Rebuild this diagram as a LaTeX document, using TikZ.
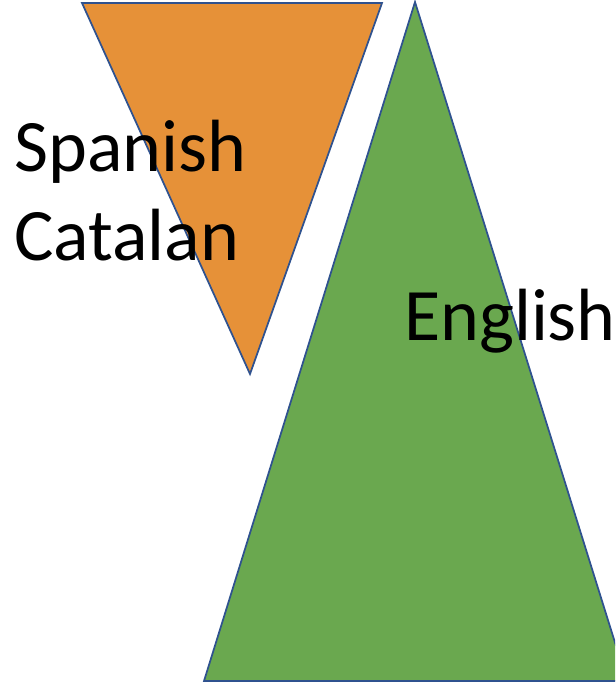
\documentclass[tikz,border=0pt]{standalone}
\usepackage{fontspec}
\setmainfont{Carlito}
\definecolor{tri orange}{RGB}{230,145,56}
\definecolor{tri green}{RGB}{106,168,79}
\definecolor{tri edge}{RGB}{47,82,143}
\tikzset{
  tri/.style={draw=tri edge, line width=1.3pt, line join=miter},
  lang/.style={font=\fontsize{55.5}{66}\selectfont, inner sep=0pt, anchor=base west}
}
\begin{document}
\begin{tikzpicture}[x=0.75pt,y=-0.75pt]
\useasboundingbox (0,0) rectangle (615,684);
\clip (0,0) rectangle (615,684);
% the two triangles
\filldraw[tri, fill=tri orange] (82,3) -- (382,3) -- (250,374) -- cycle;
\filldraw[tri, fill=tri green] (415,2) -- (627,681) -- (204,681) -- cycle;
% labels
\node[lang] (spanish) at (14,172) {Spanish};
\node[lang] (catalan) at (14,260) {Catalan};
\node[lang] (english) at (404,340) {English};
\end{tikzpicture}
\end{document}
